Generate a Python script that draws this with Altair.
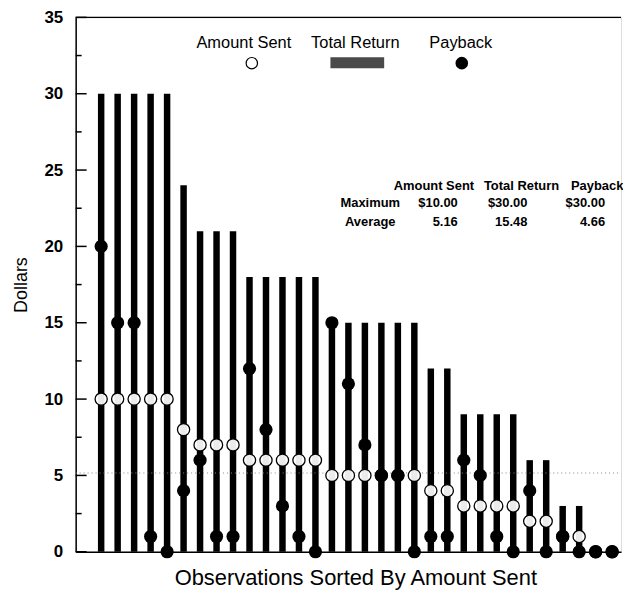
import altair as alt
import pandas as pd

obs = list(range(1, 33))
amount_sent = [10, 10, 10, 10, 10, 8, 7, 7, 7, 6, 6, 6, 6, 6, 5, 5, 5, 5, 5, 5,
               4, 4, 3, 3, 3, 3, 2, 2, 1, 1, 0, 0]
total_return = [30, 30, 30, 30, 30, 24, 21, 21, 21, 18, 18, 18, 18, 18, 15, 15, 15, 15, 15, 15,
                12, 12, 9, 9, 9, 9, 6, 6, 3, 3, 0, 0]
payback = [20, 15, 15, 1, 0, 4, 6, 1, 1, 12, 8, 3, 1, 0, 15, 11, 7, 5, 5, 0,
           1, 1, 6, 5, 1, 0, 4, 0, 1, 0, 0, 0]

stat_cols = ["Amount Sent", "Total Return", "Payback"]
stat_max = ["$10.00", "$30.00", "$30.00"]
stat_avg = ["5.16", "15.48", "4.66"]
avg_sent = [5.16]

major_ticks = [0, 5, 10, 15, 20, 25, 30, 35]
minor_ticks = [2.5, 7.5, 12.5, 17.5, 22.5, 27.5, 32.5]

df = pd.DataFrame({"obs": obs, "sent": amount_sent, "total": total_return, "payback": payback})

FONT = "Liberation Sans"
W, H = 548, 537
xs = alt.Scale(domain=[-0.245, 32.237], nice=False, zero=False)
ys = alt.Scale(domain=[0, 35], nice=False)

base = alt.Chart(df)

bars = base.mark_bar(size=6.5, color="black").encode(
    x=alt.X("obs:Q", scale=xs,
            axis=alt.Axis(labels=False, ticks=False, grid=False, domainColor="black",
                          domainWidth=1.5, title="Observations Sorted By Amount Sent",
                          titleFont=FONT, titleFontSize=22, titleFontWeight="normal",
                          titleColor="black", titlePadding=16, titleX=281)),
    y=alt.Y("total:Q", scale=ys,
            axis=alt.Axis(values=major_ticks, ticks=False, grid=False, domainColor="black",
                          domainWidth=1.5, labelFont=FONT, labelFontSize=17,
                          labelFontWeight="bold", labelColor="black", labelPadding=13,
                          title="Dollars", titleFont=FONT, titleFontSize=18,
                          titleFontWeight="normal", titleColor="black", titlePadding=14)),
)

avg_line = alt.Chart(pd.DataFrame({"a": avg_sent})).mark_rule(
    color="#888", strokeDash=[1, 3], strokeWidth=1
).encode(y=alt.Y("a:Q", scale=ys), x=alt.value(0), x2=alt.value(W))

open_pts = base.mark_point(shape="circle", filled=True, fill="white", fillOpacity=0.92,
                           stroke="black", strokeWidth=1.3, size=150, opacity=1).encode(
    x=alt.X("obs:Q", scale=xs), y=alt.Y("sent:Q", scale=ys))

fill_pts = base.mark_point(shape="circle", filled=True, color="black", size=175, opacity=1).encode(
    x=alt.X("obs:Q", scale=xs), y=alt.Y("payback:Q", scale=ys))

maj = alt.Chart(pd.DataFrame({"m": major_ticks})).mark_rule(color="black", strokeWidth=1.5).encode(
    y=alt.Y("m:Q", scale=ys), x=alt.value(0), x2=alt.value(11))
mino = alt.Chart(pd.DataFrame({"n": minor_ticks})).mark_rule(color="black", strokeWidth=1.5).encode(
    y=alt.Y("n:Q", scale=ys), x=alt.value(0), x2=alt.value(6))
top_line = alt.Chart(pd.DataFrame({"tv": [35]})).mark_rule(color="black", strokeWidth=1.2).encode(
    y=alt.Y("tv:Q", scale=ys), x=alt.value(0), x2=alt.value(W))


def txt(t, x, y, size, align="center", weight="normal"):
    return alt.Chart(pd.DataFrame({"label": [t]})).mark_text(
        font=FONT, fontSize=size, fontWeight=weight, align=align, baseline="middle", color="black"
    ).encode(text="label:N", x=alt.value(x), y=alt.value(y))


legend_names = stat_cols
legend = [
    txt(legend_names[0], 169, 26, 16.5),
    txt(legend_names[1], 281, 26, 16.5),
    txt(legend_names[2], 387, 26, 16.5),
    alt.Chart(pd.DataFrame({"k": [0]})).mark_point(shape="circle", filled=True, fill="white",
                                                   stroke="black", strokeWidth=1.2, size=130,
                                                   opacity=1).encode(x=alt.value(177), y=alt.value(46)),
    alt.Chart(pd.DataFrame({"k": [0]})).mark_rect(color="#4a4a4a").encode(
        x=alt.value(256), x2=alt.value(310), y=alt.value(40), y2=alt.value(51)),
    alt.Chart(pd.DataFrame({"k": [0]})).mark_point(shape="circle", filled=True, color="black",
                                                   size=160, opacity=1).encode(x=alt.value(388), y=alt.value(46)),
]

table = [
    txt(stat_cols[0], 360, 169, 13, weight="bold"),
    txt(stat_cols[1], 448, 169, 13, weight="bold"),
    txt(stat_cols[2], 524, 169, 13, weight="bold"),
    txt("Maximum", 296, 187, 13, weight="bold"),
    txt("Average", 296, 206, 13, weight="bold"),
    txt(stat_max[0], 384, 187, 13, align="right", weight="bold"),
    txt(stat_max[1], 454, 187, 13, align="right", weight="bold"),
    txt(stat_max[2], 532, 187, 13, align="right", weight="bold"),
    txt(stat_avg[0], 384, 206, 13, align="right", weight="bold"),
    txt(stat_avg[1], 454, 206, 13, align="right", weight="bold"),
    txt(stat_avg[2], 532, 206, 13, align="right", weight="bold"),
]

chart = alt.layer(bars, avg_line, open_pts, fill_pts, top_line, *legend, *table, maj, mino).properties(
    width=W, height=H,
    autosize=alt.AutoSizeParams(type="none"),
    padding={"left": 68, "top": 8, "right": 2, "bottom": 38},
).configure_view(stroke=None).configure(background="white")

chart.save("out.html", embed_options={"renderer": "svg", "actions": False})
